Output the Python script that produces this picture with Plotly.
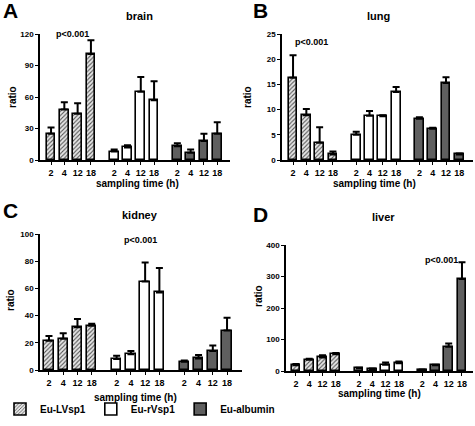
import plotly.graph_objects as go

W, H = 475, 426

times = ["2", "4", "12", "18"]
constructs = ["Eu-LVsp1", "Eu-rVsp1", "Eu-albumin"]
organs = ["brain", "lung", "kidney", "liver"]
panel_letters = ["A", "B", "C", "D"]

brain_LVsp1 = [25, 48, 44, 101]
brain_LVsp1_err = [6, 7, 10, 13]
brain_rVsp1 = [8, 12, 65, 57]
brain_rVsp1_err = [2, 2, 14, 18]
brain_albumin = [13, 7, 18, 25]
brain_albumin_err = [3, 3, 7, 11]

lung_LVsp1 = [16.3, 8.9, 3.4, 1.1]
lung_LVsp1_err = [4.5, 1.2, 3.1, 0.6]
lung_rVsp1 = [5.0, 8.8, 8.7, 13.5]
lung_rVsp1_err = [0.6, 0.9, 0.2, 1.0]
lung_albumin = [8.2, 6.2, 15.3, 1.1]
lung_albumin_err = [0.3, 0.2, 1.1, 0.2]

kidney_LVsp1 = [21.5, 23, 31.5, 32.5]
kidney_LVsp1_err = [3.5, 4, 6, 1.5]
kidney_rVsp1 = [8, 11.5, 65, 57]
kidney_rVsp1_err = [2.5, 2.5, 14, 18]
kidney_albumin = [6, 8.5, 14, 29]
kidney_albumin_err = [1, 2.5, 4, 9.5]

liver_LVsp1 = [18, 36, 43, 53]
liver_LVsp1_err = [4, 3, 7, 4]
liver_rVsp1 = [8, 6, 20, 25]
liver_rVsp1_err = [2, 2, 7, 5]
liver_albumin = [3, 18, 77, 292]
liver_albumin_err = [2, 2, 10, 53]

y_max = [120, 25, 100, 400]
y_dtick = [30, 5, 20, 100]

data = {
    "brain": [(brain_LVsp1, brain_LVsp1_err), (brain_rVsp1, brain_rVsp1_err), (brain_albumin, brain_albumin_err)],
    "lung": [(lung_LVsp1, lung_LVsp1_err), (lung_rVsp1, lung_rVsp1_err), (lung_albumin, lung_albumin_err)],
    "kidney": [(kidney_LVsp1, kidney_LVsp1_err), (kidney_rVsp1, kidney_rVsp1_err), (kidney_albumin, kidney_albumin_err)],
    "liver": [(liver_LVsp1, liver_LVsp1_err), (liver_rVsp1, liver_rVsp1_err), (liver_albumin, liver_albumin_err)],
}

FONT = "Liberation Sans, Arial, sans-serif"

def px(x, y):
    return x / W, 1 - y / H

# panel layout in pixels: (x0, x1, ytop, ybottom, xrange)
panels = [
    (40, 230, 34, 160, [-0.83, 13.46]),
    (282, 473, 34, 160, [-0.83, 13.53]),
    (40, 242, 234, 370, [-0.63, 13.55]),
    (286, 473, 245, 371, [-0.75, 13.33]),
]

group_offsets = [0, 4.75, 9.5]
styles = [
    dict(color="#d9d9d9", pattern=dict(shape="/", fgcolor="#555555", bgcolor="#e6e6e6", size=3, solidity=0.35)),
    dict(color="white"),
    dict(color="#5f5f5f"),
]

fig = go.Figure()

for i, organ in enumerate(organs):
    xa = "x" if i == 0 else f"x{i+1}"
    ya = "y" if i == 0 else f"y{i+1}"
    for g, (vals, errs) in enumerate(data[organ]):
        xs = [group_offsets[g] + k for k in range(len(times))]
        fig.add_trace(go.Bar(
            x=xs, y=vals, width=0.66,
            name=constructs[g], legendgroup=constructs[g], showlegend=(i == 0),
            marker=dict(line=dict(color="black", width=1.6), **styles[g]),
            error_y=dict(type="data", symmetric=False, array=errs, arrayminus=[0] * len(errs),
                         color="black", thickness=2, width=3.5),
            xaxis=xa, yaxis=ya,
        ))

layout = dict(
    template="none",
    width=W, height=H, margin=dict(l=0, r=0, t=0, b=0, autoexpand=False),
    plot_bgcolor="white", paper_bgcolor="white",
    font=dict(family=FONT, color="black", weight="bold"),
    barmode="overlay", bargap=0,
    showlegend=True,
    legend=dict(orientation="h", x=0, y=1 - 409 / H, xanchor="left", yanchor="middle",
                font=dict(size=10, family=FONT, weight="bold"), itemwidth=30,
                tracegroupgap=0, bgcolor="rgba(0,0,0,0)"),
)

tickvals = [group_offsets[g] + k for g in range(3) for k in range(4)]
ticktext = times * 3

for i, (x0, x1, yt, yb, xr) in enumerate(panels):
    sfx = "" if i == 0 else str(i + 1)
    layout["xaxis" + sfx] = dict(
        domain=[x0 / W, x1 / W], range=xr, anchor="y" + sfx, automargin=False,
        showline=True, linecolor="black", linewidth=1.5, showgrid=False, zeroline=False,
        tickmode="array", tickvals=tickvals, ticktext=ticktext,
        ticks="outside", ticklen=3, tickwidth=1.2, tickcolor="black",
        tickfont=dict(size=9, family=FONT, weight="bold"), fixedrange=True,
    )
    layout["yaxis" + sfx] = dict(
        domain=[1 - yb / H, 1 - yt / H], range=[0, y_max[i]], anchor="x" + sfx, automargin=False,
        showline=True, linecolor="black", linewidth=1.5, showgrid=False, zeroline=False,
        tick0=0, dtick=y_dtick[i],
        ticks="outside", ticklen=3, tickwidth=1.2, tickcolor="black",
        tickfont=dict(size=8, family=FONT, weight="bold"), fixedrange=True,
    )

fig.update_layout(**layout)

def ann(text, x, y, size, angle=0):
    ax, ay = px(x, y)
    fig.add_annotation(text=text, x=ax, y=ay, xref="paper", yref="paper",
                       showarrow=False, textangle=angle, xanchor="center", yanchor="middle",
                       font=dict(size=size, family=FONT, color="black", weight="bold"))

letter_pos = [(10, 10), (260, 10), (10, 210), (260, 214)]
title_pos = [(139, 16), (378, 16), (140, 215), (383, 217)]
xt_pos = [(137, 183), (374, 183), (135, 397), (379, 393)]
yt_pos = [(12, 97), (247, 97), (10, 300), (258, 296)]
p_pos = [(72, 34), (311, 42), (140, 240), (441, 260)]

for i in range(4):
    ann(panel_letters[i], *letter_pos[i], 21)
    ann(organs[i], *title_pos[i], 11)
    ann("sampling time (h)", *xt_pos[i], 10)
    ann("ratio", *yt_pos[i], 10, angle=-90)
    ann("p<0.001", *p_pos[i], 9)

fig.write_html("out.html", config={"displayModeBar": False},
               post_script="document.body.style.margin='0';document.body.style.overflow='hidden';")
